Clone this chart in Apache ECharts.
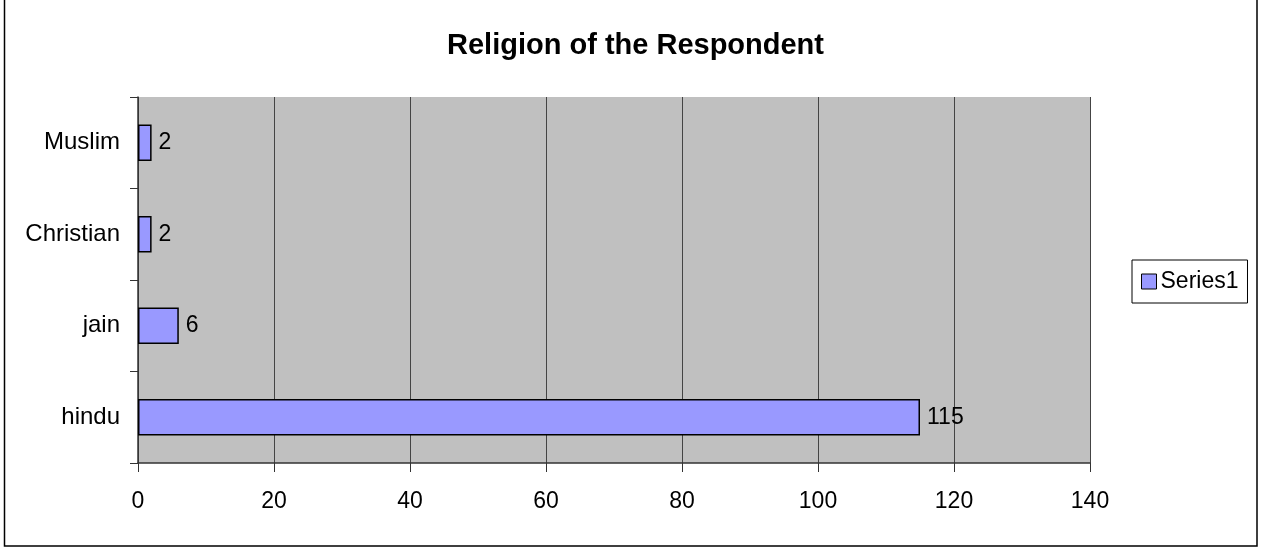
<!DOCTYPE html>
<html>
<head>
<meta charset="utf-8">
<script src="https://cdn.jsdelivr.net/npm/echarts@6/dist/echarts.min.js"></script>
<style>
html,body{margin:0;padding:0;background:#fff;}
#chart{width:1271px;height:549px;}
</style>
</head>
<body>
<div id="chart"></div>
<script>
var titleText = 'Religion of the Respondent';
var categories = ['hindu', 'jain', 'Christian', 'Muslim'];
var seriesName = 'Series1';
var values = [115, 6, 2, 2];
var xTicks = [0, 20, 40, 60, 80, 100, 120, 140];

var chart = echarts.init(document.getElementById('chart'), null, {renderer: 'canvas'});
var font = 'Liberation Sans, Arial, sans-serif';
chart.setOption({
  animation: false,
  backgroundColor: '#fff',
  textStyle: {fontFamily: font},
  title: {
    text: titleText,
    left: 'center',
    top: 26,
    textStyle: {fontFamily: font, fontSize: 29, fontWeight: 'bold', color: '#000'}
  },
  graphic: [{
    type: 'rect',
    shape: {x: 4.5, y: -5, width: 1252.5, height: 551},
    style: {fill: 'none', stroke: '#000', lineWidth: 1.5},
    silent: true
  }],
  legend: {
    data: [seriesName],
    left: 1132,
    top: 260,
    orient: 'vertical',
    padding: [10, 9, 10, 9],
    borderColor: '#000',
    borderWidth: 1,
    itemWidth: 15,
    itemHeight: 15,
    itemGap: 0,
    icon: 'rect',
    textStyle: {fontFamily: font, fontSize: 23, color: '#000', padding: [0, 0, 0, -1]},
    itemStyle: {borderColor: '#000', borderWidth: 1}
  },
  grid: {
    left: 138, right: 181, top: 97, bottom: 86,
    show: true,
    backgroundColor: '#c0c0c0',
    borderWidth: 0
  },
  xAxis: {
    type: 'value',
    min: xTicks[0],
    max: xTicks[xTicks.length - 1],
    interval: 20,
    axisLine: {show: true, lineStyle: {color: '#333', width: 1.5}},
    axisTick: {show: true, length: 9, lineStyle: {color: '#333'}},
    axisLabel: {fontFamily: font, fontSize: 23, color: '#000', margin: 27},
    splitLine: {show: true, lineStyle: {color: '#444', width: 1}}
  },
  yAxis: {
    type: 'category',
    data: categories,
    axisLine: {show: true, lineStyle: {color: '#333', width: 1.5}},
    axisTick: {show: true, length: 8, lineStyle: {color: '#333'}},
    axisLabel: {fontFamily: font, fontSize: 24, color: '#000', margin: 18},
    splitLine: {show: false}
  },
  series: [{
    name: seriesName,
    type: 'bar',
    data: values,
    barCategoryGap: '60%',
    itemStyle: {color: '#9999ff', borderColor: '#000', borderWidth: 1.5},
    label: {
      show: true,
      position: 'right',
      distance: 7,
      fontFamily: font,
      fontSize: 23,
      color: '#000'
    }
  }]
});
</script>
</body>
</html>
